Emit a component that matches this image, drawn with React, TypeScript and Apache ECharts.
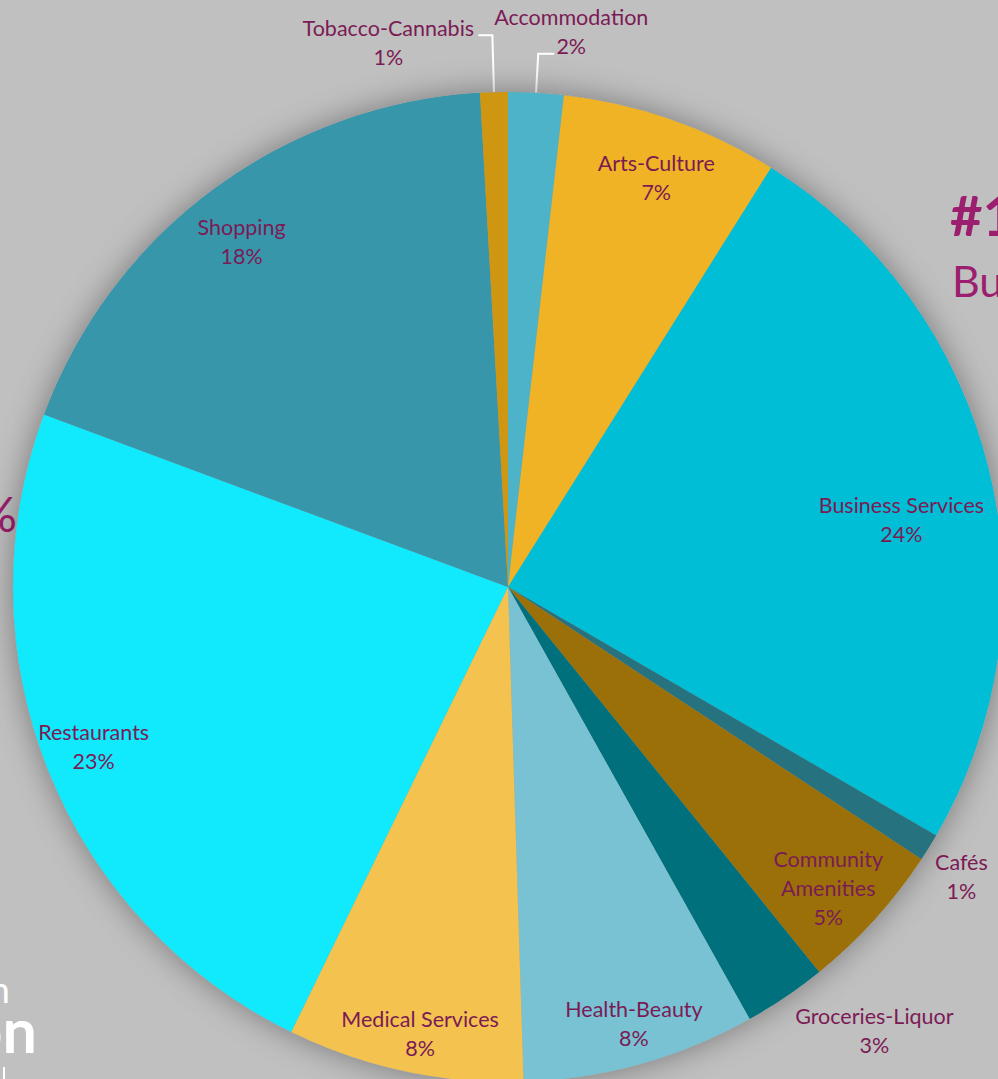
import React, { useEffect, useRef } from "react";
import * as echarts from "echarts";

// ---- data ----
const categories = [
  "Accommodation",
  "Arts-Culture",
  "Business Services",
  "Cafés",
  "Community Amenities",
  "Groceries-Liquor",
  "Health-Beauty",
  "Medical Services",
  "Restaurants",
  "Shopping",
  "Tobacco-Cannabis",
];
const shares = [1.8, 7.1, 24.4, 0.9, 4.9, 2.7, 7.6, 7.7, 23.4, 18.4, 0.9];
const sliceColors = [
  "#4db3c9",
  "#efb325",
  "#00bed5",
  "#26727f",
  "#9b7009",
  "#00717c",
  "#78c2d3",
  "#f3c24f",
  "#11e9fd",
  "#3896ab",
  "#cf9612",
];

// ---- styling / layout ----
const CX = 508;
const CY = 587;
const R = 495;
const LABEL_COLOR = "#7b1b55";
const FONT = "Lato, 'Noto Sans', sans-serif";

// labels with white leader lines (outside)
const linedLabels: Record<string, { length: number; length2: number; dx: number; dy: number }> = {
  Accommodation: { length: 39, length2: 16, dx: 12, dy: -22 },
  "Tobacco-Cannabis": { length: 57, length2: 14, dx: -85, dy: 7 },
};
// offsets of the other labels from the ring-mid position
const labelOffsets: Record<string, [number, number]> = {
  "Arts-Culture": [0, 14],
  "Business Services": [-42, 40],
  "Cafés": [72, 54],
  "Community Amenities": [-12, 0],
  "Groceries-Liquor": [115, 72],
  "Health-Beauty": [6, 4],
  "Medical Services": [6, 8],
  Restaurants: [2, -7],
  Shopping: [0, 15],
};

const labelText = (p: any) => {
  const n = p.name === "Community Amenities" ? "Community\nAmenities" : p.name;
  return n + "\n" + Math.round(p.percent) + "%";
};

const textStyle = {
  color: LABEL_COLOR,
  fontFamily: FONT,
  fontSize: 21.5,
  lineHeight: 29,
  textBorderWidth: 0,
  textBorderColor: "transparent",
};

export default function App() {
  const ref = useRef<HTMLDivElement>(null);
  useEffect(() => {
    if (!ref.current) return;
    const chart = echarts.init(ref.current, null, { renderer: "svg" });
    chart.setOption({
      animation: false,
      backgroundColor: "#c0c0c0",
      graphic: [
        { type: "text", x: 950, y: 214, style: { text: "#1", font: "bold 56px Lato", fill: "#9c1e6e", textAlign: "left", textVerticalAlign: "middle", lineHeight: 56 } },
        { type: "text", x: 952, y: 280, style: { text: "Bu", font: "43px Lato", fill: "#9c1e6e", textAlign: "left", textVerticalAlign: "middle", lineHeight: 43 } },
        { type: "text", x: 17, y: 513, style: { text: "%", font: "48px Lato", fill: "#9c1e6e", textAlign: "right", textVerticalAlign: "middle", lineHeight: 48 } },
        { type: "text", x: 37, y: 1029, style: { text: "on", font: "bold 61px Lato", fill: "#ffffff", textAlign: "right", textVerticalAlign: "middle", lineHeight: 40 } },
        { type: "text", x: 10, y: 988, style: { text: "n", font: "37px Lato", fill: "#ffffff", textAlign: "right", textVerticalAlign: "middle", lineHeight: 22 } },
        { type: "line", shape: { x1: 4, y1: 1067, x2: 4, y2: 1079 }, style: { stroke: "#ffffff", lineWidth: 2 } },
      ],
      series: [
        {
          type: "pie",
          center: [CX, CY],
          radius: R,
          silent: true,
          label: { show: false },
          labelLine: { show: false },
          data: [
            {
              value: 1,
              name: "shadow",
              itemStyle: { color: "#9a9a9a", shadowBlur: 32, shadowColor: "rgba(0,0,0,0.38)" },
            },
          ],
        },
        {
          type: "pie",
          center: [CX, CY],
          radius: R,
          startAngle: 90,
          clockwise: true,
          silent: true,
          avoidLabelOverlap: false,
          itemStyle: { borderWidth: 0 },
          label: { show: false, formatter: labelText, ...textStyle },
          labelLine: { show: false },
          labelLayout: (p: any) => {
            const c = linedLabels[categories[p.dataIndex]];
            return c ? { dx: c.dx, dy: c.dy, align: "center" } : {};
          },
          data: categories.map((name, i) => {
            const c = linedLabels[name];
            const item: any = { name, value: shares[i], itemStyle: { color: sliceColors[i] } };
            if (c) {
              item.label = { show: true, position: "outside", distanceToLabelLine: 5 };
              item.labelLine = {
                show: true,
                length: c.length,
                length2: c.length2,
                smooth: false,
                lineStyle: { color: "#ffffff", width: 2 },
              };
            }
            return item;
          }),
        },
        {
          type: "pie",
          center: [CX, CY],
          radius: [R * 0.8, R],
          startAngle: 90,
          clockwise: true,
          silent: true,
          avoidLabelOverlap: false,
          itemStyle: { color: "transparent", borderWidth: 0 },
          label: { show: true, position: "inside", formatter: labelText, ...textStyle },
          labelLine: { show: false },
          labelLayout: (p: any) => {
            const o = labelOffsets[categories[p.dataIndex]];
            return o ? { dx: o[0], dy: o[1] } : {};
          },
          data: categories.map((name, i) => ({
            name,
            value: shares[i],
            label: { show: !!labelOffsets[name] },
          })),
        },
      ],
    });
    return () => chart.dispose();
  }, []);
  return (
    <div
      ref={ref}
      style={{ position: "fixed", left: 0, top: 0, width: 998, height: 1079 }}
    />
  );
}
